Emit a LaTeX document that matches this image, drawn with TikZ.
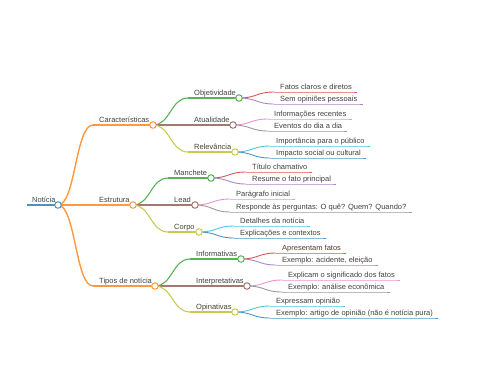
\documentclass[tikz,border=0pt]{standalone}
\usepackage{fontspec}
\setmainfont{Liberation Sans}
\definecolor{cblueb}{HTML}{1F77B4}
\definecolor{corangeb}{HTML}{FF7F0E}
\definecolor{cgreenb}{HTML}{2CA02C}
\definecolor{cbrownb}{HTML}{8C564B}
\definecolor{coliveb}{HTML}{BCBD22}
\definecolor{credb}{HTML}{D62728}
\definecolor{cpurpleb}{HTML}{9467BD}
\definecolor{cpinkb}{HTML}{E377C2}
\definecolor{cgrayb}{HTML}{7F7F7F}
\definecolor{ccyanb}{HTML}{17BECF}
\colorlet{cblue}{cblueb!80!white}
\colorlet{corange}{corangeb!80!white}
\colorlet{cgreen}{cgreenb!80!white}
\colorlet{cbrown}{cbrownb!80!white}
\colorlet{colive}{coliveb!80!white}
\colorlet{cred}{credb!80!white}
\colorlet{cpurple}{cpurpleb!80!white}
\colorlet{cpink}{cpinkb!80!white}
\colorlet{cgray}{cgrayb!80!white}
\colorlet{ccyan}{ccyanb!80!white}
\definecolor{txt}{HTML}{404040}
% #1 name, #2 colour, #3 parent circle coordinate, #4 start point, #5 line width, #6 text
\newcommand\mmbranch[6]{%
  \coordinate (#1s) at #4;
  \node[lbl] (#1) at ([xshift=6pt,yshift=2.5pt]#1s) {#6};
  \draw[#2, line width=#5] (#3) .. controls +(17.5,0) and +(-17.5,0) .. (#1s);
}
\newcommand\mmleaf[5]{%
  \mmbranch{#1}{#2}{#3}{#4}{0.9pt}{#5}
  \draw[#2, line width=0.9pt] (#1s) -- (#1s -| #1.east) -- ++(5,0);
}
\begin{document}
\begin{tikzpicture}[x=1pt,y=-1pt,
  lbl/.style={font=\fontsize{7.5}{9}\selectfont, text=txt, inner sep=0pt, anchor=base west},
  dot/.style={circle, fill=white, minimum size=6.5pt, inner sep=0pt, line width=1pt}]
\useasboundingbox (0,0) rectangle (480,384);
% root
\coordinate (Rs) at (27,205);
\coordinate (Rc) at (58,205);
\node[lbl] (R) at ([xshift=5pt,yshift=2.5pt]Rs) {Notícia};
\draw[cblue, line width=1.8pt] (Rs) -- (Rc);
% level 1
\mmbranch{C}{corange}{Rc}{(93,125)}{1.4pt}{Características}
\coordinate (Cc) at (153,125); \draw[corange, line width=1.4pt] (Cs) -- (Cc);
\mmbranch{E}{corange}{Rc}{(93,205)}{1.4pt}{Estrutura}
\coordinate (Ec) at (133,205); \draw[corange, line width=1.4pt] (Es) -- (Ec);
\mmbranch{T}{corange}{Rc}{(93,286)}{1.4pt}{Tipos de notícia}
\coordinate (Tc) at (155,286); \draw[corange, line width=1.4pt] (Ts) -- (Tc);
% level 2
\mmbranch{O}{cgreen}{Cc}{(188,98)}{1.1pt}{Objetividade}
\coordinate (Oc) at (239,98); \draw[cgreen, line width=1.1pt] (Os) -- (Oc);
\mmbranch{A}{cbrown}{Cc}{(188,125)}{1.1pt}{Atualidade}
\coordinate (Ac) at (233,125); \draw[cbrown, line width=1.1pt] (As) -- (Ac);
\mmbranch{V}{colive}{Cc}{(188,152)}{1.1pt}{Relevância}
\coordinate (Vc) at (235,152); \draw[colive, line width=1.1pt] (Vs) -- (Vc);
\mmbranch{M}{cgreen}{Ec}{(168,178)}{1.1pt}{Manchete}
\coordinate (Mc) at (211,178); \draw[cgreen, line width=1.1pt] (Ms) -- (Mc);
\mmbranch{L}{cbrown}{Ec}{(168,205)}{1.1pt}{Lead}
\coordinate (Lc) at (195,205); \draw[cbrown, line width=1.1pt] (Ls) -- (Lc);
\mmbranch{P}{colive}{Ec}{(168,232)}{1.1pt}{Corpo}
\coordinate (Pc) at (199,232); \draw[colive, line width=1.1pt] (Ps) -- (Pc);
\mmbranch{I}{cgreen}{Tc}{(190,259)}{1.1pt}{Informativas}
\coordinate (Ic) at (241,259); \draw[cgreen, line width=1.1pt] (Is) -- (Ic);
\mmbranch{N}{cbrown}{Tc}{(190,286)}{1.1pt}{Interpretativas}
\coordinate (Nc) at (247,286); \draw[cbrown, line width=1.1pt] (Ns) -- (Nc);
\mmbranch{Q}{colive}{Tc}{(190,312)}{1.1pt}{Opinativas}
\coordinate (Qc) at (235,312); \draw[colive, line width=1.1pt] (Qs) -- (Qc);
% leaves
\mmleaf{O1}{cred}{Oc}{(274,92)}{Fatos claros e diretos}
\mmleaf{O2}{cpurple}{Oc}{(274,104)}{Sem opiniões pessoais}
\mmleaf{A1}{cpink}{Ac}{(268,119)}{Informações recentes}
\mmleaf{A2}{cgray}{Ac}{(268,131)}{Eventos do dia a dia}
\mmleaf{V1}{ccyan}{Vc}{(270,146)}{Importância para o público}
\mmleaf{V2}{cblue}{Vc}{(270,158)}{Impacto social ou cultural}
\mmleaf{M1}{cred}{Mc}{(246,172)}{Título chamativo}
\mmleaf{M2}{cpurple}{Mc}{(246,184)}{Resume o fato principal}
\mmleaf{L1}{cpink}{Lc}{(230,199)}{Parágrafo inicial}
\mmleaf{L2}{cgray}{Lc}{(230,212)}{Responde às perguntas: O quê? Quem? Quando?}
\mmleaf{P1}{ccyan}{Pc}{(234,226)}{Detalhes da notícia}
\mmleaf{P2}{cblue}{Pc}{(234,238)}{Explicações e contextos}
\mmleaf{I1}{cred}{Ic}{(276,253)}{Apresentam fatos}
\mmleaf{I2}{cpurple}{Ic}{(276,265)}{Exemplo: acidente, eleição}
\mmleaf{N1}{cpink}{Nc}{(282,280)}{Explicam o significado dos fatos}
\mmleaf{N2}{cgray}{Nc}{(282,292)}{Exemplo: análise econômica}
\mmleaf{Q1}{ccyan}{Qc}{(270,306)}{Expressam opinião}
\mmleaf{Q2}{cblue}{Qc}{(270,318)}{Exemplo: artigo de opinião (não é notícia pura)}
% circles on top
\foreach \n/\c in {R/cblue,C/corange,E/corange,T/corange,O/cgreen,A/cbrown,V/colive,M/cgreen,L/cbrown,P/colive,I/cgreen,N/cbrown,Q/colive}
  \node[dot, draw=\c] (\n dot) at (\n c) {};
\end{tikzpicture}
\end{document}
